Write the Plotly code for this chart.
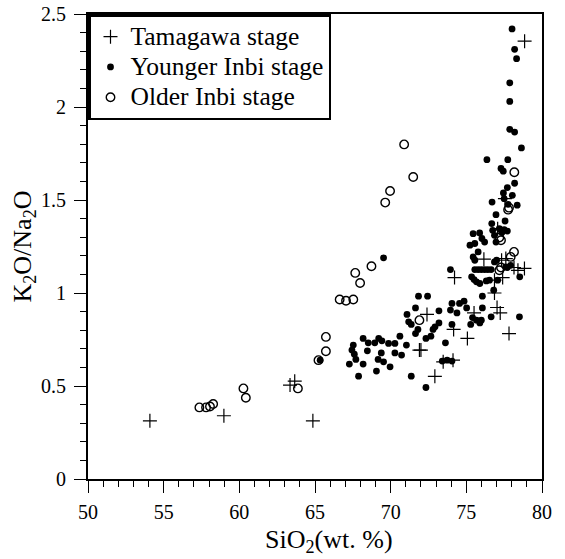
import plotly.graph_objects as go

# Tamagawa stage (+)
tam_x = [54.09, 58.98, 63.35, 63.66, 64.86, 71.9, 72.0, 72.4, 72.92, 73.47, 74.12, 74.16,
         74.22, 75.07, 75.51, 76.16, 76.86, 76.86, 77.03, 77.24, 77.07, 77.33, 77.4, 77.55,
         77.61, 77.82, 78.15, 78.41, 78.84, 78.85]
tam_y = [0.313, 0.34, 0.505, 0.526, 0.313, 0.693, 0.693, 0.885, 0.552, 0.63, 0.639, 0.804,
         1.083, 0.756, 0.893, 1.182, 1.0, 1.069, 0.922, 0.893, 1.346, 1.176, 1.083, 1.507,
         1.185, 0.782, 1.137, 1.122, 1.132, 2.354]

# Younger Inbi stage (filled dots)
yng_x = [78.02, 78.19, 78.32, 77.87, 77.87, 77.87, 78.19, 78.64, 76.36, 77.74, 77.29, 77.44,
         78.19, 77.71, 77.45, 78.04, 77.5, 76.7, 78.36, 77.76, 76.96, 77.56, 76.68, 76.74,
         77.18, 77.5, 77.71, 76.86, 76.96, 75.45, 75.88, 76.03, 76.21, 75.24, 75.56, 75.78,
         75.45, 75.56, 77.0, 76.86, 77.71, 77.93, 78.53, 73.95, 75.56, 75.78, 75.99, 76.21,
         76.42, 76.64, 75.35, 75.51, 75.67, 75.89, 76.32, 76.53, 77.07, 76.81, 76.06, 74.05,
         74.55, 74.85, 74.38, 73.95, 75.02, 73.19, 76.06, 75.41, 75.67, 75.99, 75.29, 75.89,
         76.64, 78.51, 73.19, 72.93, 72.8, 72.66, 72.33, 74.05, 73.62, 73.41, 73.73, 74.05,
         72.33, 71.84, 72.44, 71.64, 71.08, 71.19, 71.36, 71.8, 71.64, 70.61, 68.18, 68.52,
         68.95, 69.21, 69.42, 69.86, 70.28, 71.04, 67.53, 67.44, 67.6, 67.7, 67.27, 68.46,
         69.38, 69.17, 69.53, 70.28, 70.72, 68.18, 69.96, 69.06, 67.88, 71.36, 69.53, 65.34,
         77.6, 77.35]
yng_y = [2.42, 2.31, 2.26, 2.13, 2.03, 1.88, 1.865, 1.78, 1.717, 1.717, 1.67, 1.655,
         1.59, 1.567, 1.538, 1.525, 1.507, 1.489, 1.472, 1.477, 1.421, 1.387, 1.373, 1.337,
         1.346, 1.341, 1.333, 1.31, 1.274, 1.319, 1.323, 1.293, 1.274, 1.257, 1.266, 1.221,
         1.194, 1.176, 1.176, 1.167, 1.137, 1.149, 1.087, 1.126, 1.126, 1.126, 1.126, 1.126,
         1.126, 1.126, 1.087, 1.072, 1.06, 1.051, 1.065, 1.069, 1.069, 1.015, 0.983, 0.944,
         0.944, 0.956, 0.893, 0.908, 0.92, 0.904, 0.92, 0.868, 0.854, 0.854, 0.831, 0.839,
         0.872, 0.872, 0.839, 0.818, 0.804, 0.768, 0.756, 0.831, 0.732, 0.634, 0.639, 0.634,
         0.492, 0.983, 0.983, 0.92, 0.885, 0.845, 0.831, 0.804, 0.782, 0.768, 0.756, 0.732,
         0.732, 0.756, 0.743, 0.729, 0.729, 0.72, 0.72, 0.693, 0.671, 0.643, 0.618, 0.689,
         0.678, 0.643, 0.63, 0.678, 0.666, 0.618, 0.603, 0.58, 0.553, 0.553, 1.189, 0.639,
         1.14, 1.325]

# Older Inbi stage (open circles)
old_x = [57.36, 57.8, 58.06, 58.27, 60.27, 60.43, 63.87, 65.23, 65.72, 65.72, 66.63, 67.05,
         67.53, 67.66, 67.98, 68.73, 69.64, 69.96, 70.89, 71.49, 71.9, 77.18, 77.29, 77.18,
         77.29, 77.93, 78.15, 77.76, 77.82, 78.17]
old_y = [0.385, 0.385, 0.39, 0.403, 0.487, 0.437, 0.487, 0.639, 0.687, 0.764, 0.965, 0.958,
         0.965, 1.108, 1.054, 1.144, 1.486, 1.548, 1.799, 1.624, 0.854, 1.122, 1.137, 1.298,
         1.284, 1.194, 1.221, 1.448, 1.459, 1.649]

x_ticks = [50, 55, 60, 65, 70, 75, 80]
y_ticks = [0, 0.5, 1, 1.5, 2, 2.5]

FONT = "Liberation Serif"


def legend_label(s):
    return '<span style="font-size:25.5px">' + s + '</span>'


fig = go.Figure()
fig.add_trace(go.Scatter(
    x=tam_x, y=tam_y, mode="markers", name=legend_label("Tamagawa stage"),
    marker=dict(symbol="cross-thin", size=10, color="black",
                line=dict(color="black", width=1.2))))
fig.add_trace(go.Scatter(
    x=yng_x, y=yng_y, mode="markers", name=legend_label("Younger Inbi stage"),
    marker=dict(symbol="circle", size=6.8, color="black", line=dict(width=0))))
fig.add_trace(go.Scatter(
    x=old_x, y=old_y, mode="markers", name=legend_label("Older Inbi stage"),
    marker=dict(symbol="circle-open", size=8.5, color="black",
                line=dict(color="black", width=1.4))))

axis_common = dict(
    showline=True, linewidth=2.2, linecolor="black", mirror=True,
    ticks="outside", ticklen=12, tickwidth=1.2, tickcolor="black",
    showgrid=False, zeroline=False, automargin=False,
    tickfont=dict(family=FONT, size=20, color="black"),
)

fig.update_xaxes(
    range=[50, 80], tickvals=x_ticks, ticklabelstandoff=2,
    minor=dict(dtick=1, tick0=50, ticks="outside", ticklen=6, tickwidth=1, tickcolor="black"),
    **axis_common)
fig.update_yaxes(
    range=[0, 2.5], tickvals=y_ticks, ticklabelstandoff=4,
    minor=dict(dtick=0.1, tick0=0, ticks="outside", ticklen=6, tickwidth=1, tickcolor="black"),
    title=dict(text="K<sub>2</sub>O/Na<sub>2</sub>O", font=dict(family=FONT, size=26, color="black"),
               standoff=2),
    **axis_common)

fig.add_annotation(
    text="SiO<sub>2</sub>(wt. %)", xref="paper", yref="paper",
    x=0.531, y=-0.134, xanchor="center", yanchor="middle", showarrow=False,
    font=dict(family=FONT, size=26, color="black"))

fig.update_layout(
    width=565, height=559,
    margin=dict(l=88, r=23, t=14, b=80, autoexpand=False),
    paper_bgcolor="white", plot_bgcolor="white",
    font=dict(family=FONT, color="black"),
    legend=dict(x=0, y=1, xanchor="left", yanchor="top",
                bgcolor="white", bordercolor="black", borderwidth=2.5,
                font=dict(family=FONT, size=21, color="black"),
                tracegroupgap=0),
)

fig.write_html("out.html")
